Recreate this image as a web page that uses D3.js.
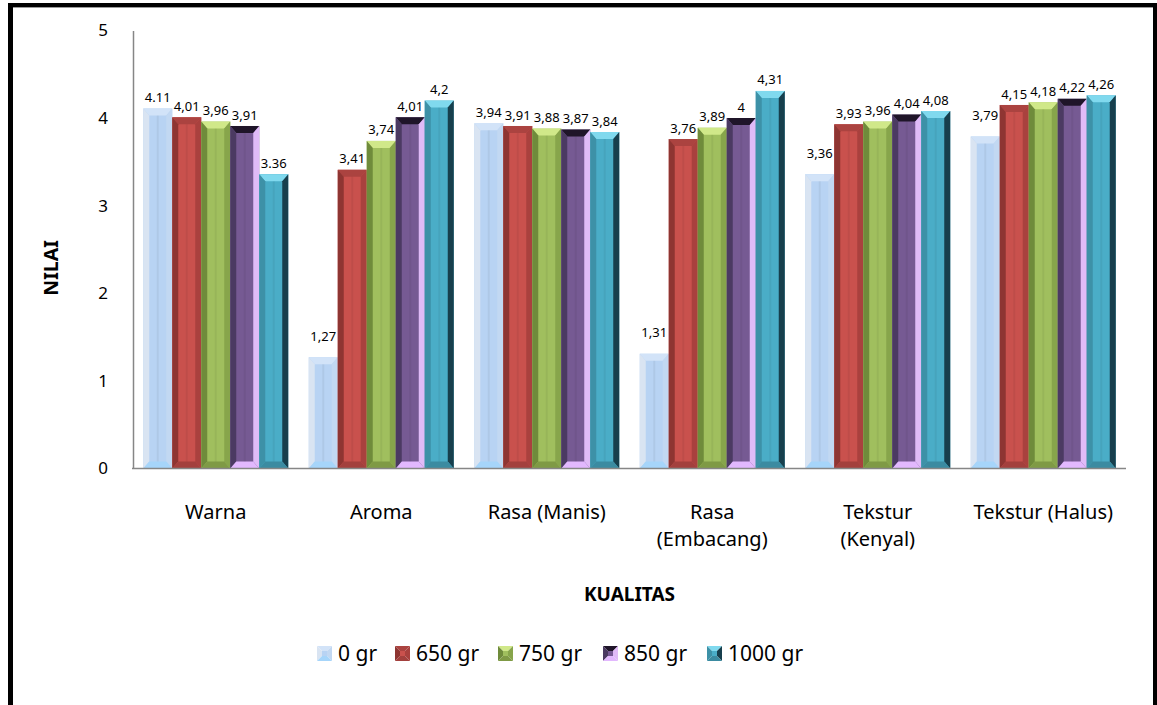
<!DOCTYPE html>
<html>
<head>
<meta charset="utf-8">
<script src="https://cdn.jsdelivr.net/npm/d3@7/dist/d3.min.js"></script>
<style>
  html, body { margin: 0; padding: 0; background: #fff; }
  svg { display: block; }
  text { font-family: "Noto Sans", "Open Sans", "Liberation Sans", sans-serif; fill: #000; }
</style>
</head>
<body>
<svg id="chart" width="1157" height="705"></svg>
<script>
// Sensory scores per quality attribute, one series per added amount
const categories = [["Warna"], ["Aroma"], ["Rasa (Manis)"], ["Rasa", "(Embacang)"], ["Tekstur", "(Kenyal)"], ["Tekstur (Halus)"]];
const seriesNames = ["0 gr", "650 gr", "750 gr", "850 gr", "1000 gr"];
const values0 = [4.11, 1.27, 3.94, 1.31, 3.36, 3.79];
const values650 = [4.01, 3.41, 3.91, 3.76, 3.93, 4.15];
const values750 = [3.96, 3.74, 3.88, 3.89, 3.96, 4.18];
const values850 = [3.91, 4.01, 3.87, 4.00, 4.04, 4.22];
const values1000 = [3.36, 4.20, 3.84, 4.31, 4.08, 4.26];
const labels0 = ["4.11", "1,27", "3,94", "1,31", "3,36", "3,79"];
const labels650 = ["4,01", "3,41", "3,91", "3,76", "3,93", "4,15"];
const labels750 = ["3,96", "3,74", "3,88", "3,89", "3,96", "4,18"];
const labels850 = ["3,91", "4,01", "3,87", "4", "4,04", "4,22"];
const labels1000 = ["3.36", "4,2", "3,84", "4,31", "4,08", "4,26"];
const yTicks = [0, 1, 2, 3, 4, 5];

const seriesValues = [values0, values650, values750, values850, values1000];
const seriesLabels = [labels0, labels650, labels750, labels850, labels1000];

// Bevel shading per series: face, top, left, right, bottom
const palette = [
  { face: "#b8d3f3", top: "#d2e3f8", left: "#d9e4f2", right: "#c2d8f2", bottom: "#a6d5fa" },
  { face: "#c9514d", top: "#ab4340", left: "#8e3532", right: "#a9413e", bottom: "#a3403d" },
  { face: "#a0bf5e", top: "#d0e889", left: "#6f8b3b", right: "#87a54b", bottom: "#7f9a45" },
  { face: "#765a93", top: "#1f1529", left: "#4b3a62", right: "#e0bbf7", bottom: "#e2b8fe" },
  { face: "#4aadc7", top: "#80d9ee", left: "#3d91a7", right: "#173f4d", bottom: "#3b8ba1" }
];

const svg = d3.select("#chart");

// Chart frame
svg.append("rect").attr("x", 8).attr("y", 3).attr("width", 1149).attr("height", 4).attr("fill", "#000");
svg.append("rect").attr("x", 13).attr("y", 7).attr("width", 1140).attr("height", 1).attr("fill", "#9a9a9a");
svg.append("rect").attr("x", 8).attr("y", 3).attr("width", 5).attr("height", 702).attr("fill", "#000");
svg.append("rect").attr("x", 1153).attr("y", 3).attr("width", 4).attr("height", 702).attr("fill", "#000");

const plot = { left: 133, right: 1126, top: 30.5, bottom: 468.5 };

const x0 = d3.scaleBand()
  .domain(d3.range(categories.length))
  .range([plot.left, plot.right])
  .paddingInner(0)
  .paddingOuter(0);

const x1 = d3.scaleBand()
  .domain(d3.range(seriesNames.length))
  .range([10.25, x0.bandwidth() - 10.25])
  .padding(0);

const y = d3.scaleLinear().domain([0, 5]).range([plot.bottom, plot.top]);

// Y axis
const yAxis = svg.append("g")
  .attr("transform", `translate(${plot.left},0)`)
  .call(d3.axisLeft(y).tickValues(yTicks).tickSize(0).tickPadding(25).tickFormat(d3.format("d")));
yAxis.select(".domain").attr("stroke", "#868686").attr("stroke-width", 1.5);
yAxis.selectAll("text").style("font-size", "17px").attr("font-family", null);

// Bars with bevelled edges
function bevelBar(g, bx, by, bw, bh, c) {
  const dx = Math.min(6, bw / 4);
  const dt = Math.min(7, bh / 2);
  const db = Math.min(7, bh / 2);
  const L = bx, R = bx + bw, T = by, B = by + bh;
  g.append("rect").attr("x", L).attr("y", T).attr("width", bw).attr("height", bh).attr("fill", c.face);
  const poly = (pts, fill) => g.append("polygon").attr("points", pts.map(p => p.join(",")).join(" ")).attr("fill", fill);
  poly([[L, T], [R, T], [R - dx, T + dt], [L + dx, T + dt]], c.top);
  poly([[L, T], [L + dx, T + dt], [L + dx, B - db], [L, B]], c.left);
  poly([[R, T], [R, B], [R - dx, B - db], [R - dx, T + dt]], c.right);
  poly([[L, B], [L + dx, B - db], [R - dx, B - db], [R, B]], c.bottom);
  // faint centre crease
  g.append("line").attr("x1", (L + R) / 2).attr("x2", (L + R) / 2)
    .attr("y1", T + dt).attr("y2", B - db)
    .attr("stroke", "#000").attr("stroke-opacity", 0.05).attr("stroke-width", 2);
}

const groups = svg.append("g").selectAll("g")
  .data(categories.map((c, i) => i))
  .join("g")
  .attr("transform", i => `translate(${x0(i)},0)`);

groups.each(function (ci) {
  const g = d3.select(this);
  seriesValues.forEach((vals, si) => {
    const v = vals[ci];
    bevelBar(g.append("g"), x1(si), y(v), x1.bandwidth(), y(0) - y(v), palette[si]);
  });
  seriesValues.forEach((vals, si) => {
    const v = vals[ci];
    // lift the first label when it sits next to a taller neighbour
    const lift = (si === 0 && seriesValues[1][ci] > v) ? 21 : 11;
    g.append("text")
      .attr("x", x1(si) + x1.bandwidth() / 2)
      .attr("y", y(v) - lift)
      .attr("dy", "0.35em")
      .attr("text-anchor", "middle")
      .style("font-size", "13px")
      .text(seriesLabels[si][ci]);
  });
});

// X axis line
svg.append("line")
  .attr("x1", plot.left - 1).attr("x2", plot.right)
  .attr("y1", plot.bottom).attr("y2", plot.bottom)
  .attr("stroke", "#868686").attr("stroke-width", 1.5);

// Category labels, one text element per line
categories.forEach((lines, i) => {
  const cx = x0(i) + x0.bandwidth() / 2;
  lines.forEach((ln, k) => {
    svg.append("text")
      .attr("x", cx)
      .attr("y", 519 + k * 27)
      .attr("text-anchor", "middle")
      .style("font-size", "20px")
      .text(ln);
  });
});

// Axis titles
svg.append("text")
  .attr("transform", "translate(51,268) rotate(-90)")
  .attr("text-anchor", "middle")
  .attr("dy", "0.35em")
  .style("font-size", "19.5px").style("font-weight", "bold")
  .text("NILAI");

svg.append("text")
  .attr("x", (plot.left + plot.right) / 2).attr("y", 601)
  .attr("text-anchor", "middle")
  .style("font-size", "19px").style("font-weight", "bold")
  .text("KUALITAS");

// Legend with pyramid-shaded swatches
const legendX = [317, 395, 498, 603, 707];
const legend = svg.append("g");
seriesNames.forEach((name, si) => {
  const c = palette[si];
  const lx = legendX[si], ly = 646, s = 15;
  const cx = lx + s / 2, cy = ly + s / 2;
  const g = legend.append("g");
  const tri = (pts, fill) => g.append("polygon").attr("points", pts.map(p => p.join(",")).join(" ")).attr("fill", fill);
  tri([[lx, ly], [lx + s, ly], [cx, cy]], c.top);
  tri([[lx, ly], [cx, cy], [lx, ly + s]], c.left);
  tri([[lx + s, ly], [lx + s, ly + s], [cx, cy]], c.right);
  tri([[lx, ly + s], [cx, cy], [lx + s, ly + s]], c.bottom);
  g.append("rect").attr("x", cx - 2.5).attr("y", cy - 2.5).attr("width", 5).attr("height", 5).attr("fill", c.face);
  g.append("text")
    .attr("x", lx + s + 6).attr("y", ly + s / 2)
    .attr("dy", "0.35em")
    .style("font-size", "21px")
    .text(name);
});
</script>
</body>
</html>
